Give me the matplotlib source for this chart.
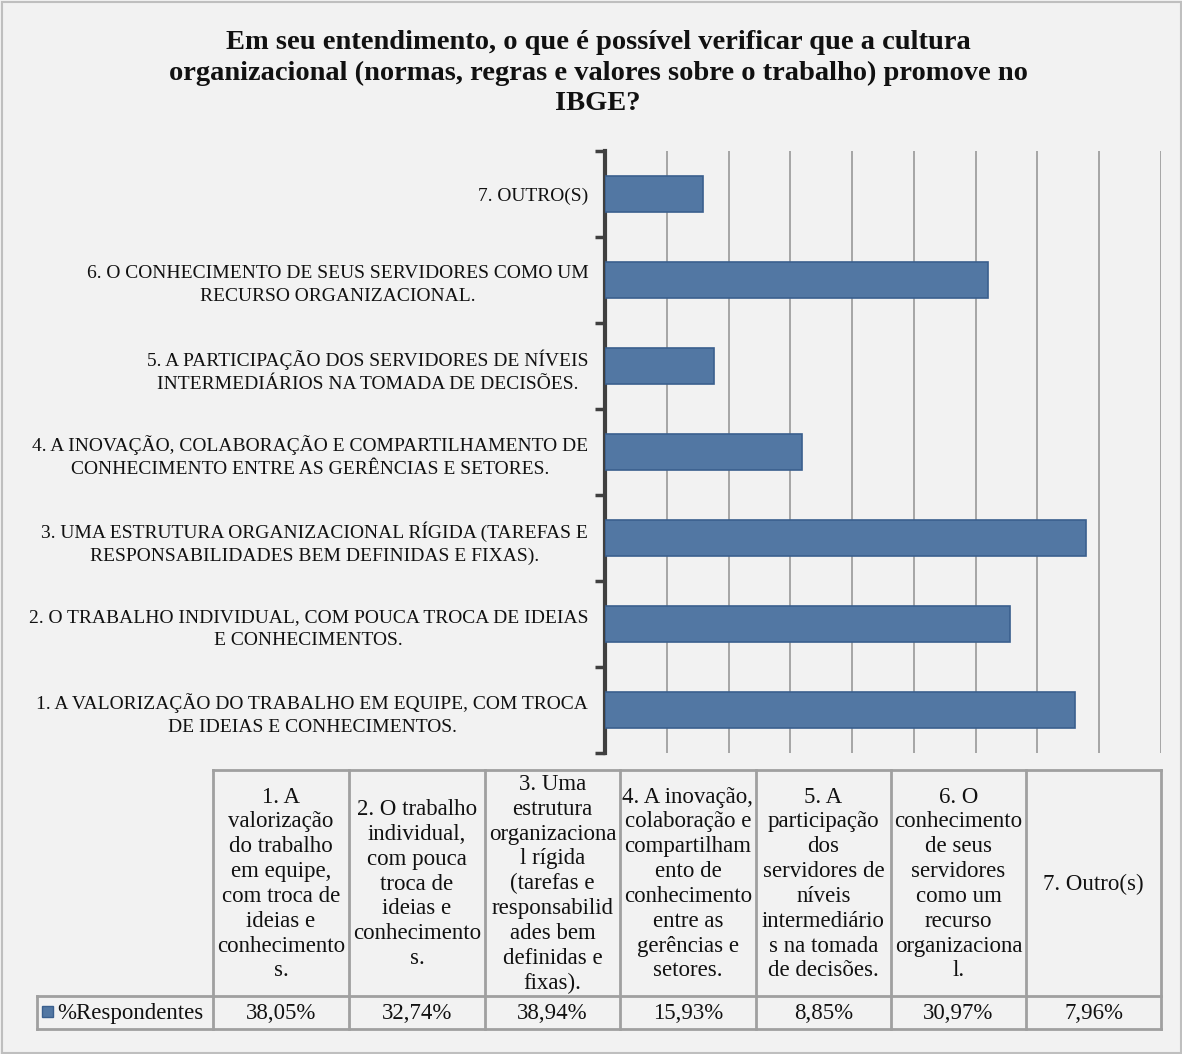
import matplotlib
matplotlib.use("Agg")
import matplotlib.pyplot as plt
from matplotlib.patches import Rectangle

# categories, bottom to top as plotted
categorias = [
    "1. A VALORIZAÇÃO DO TRABALHO EM EQUIPE, COM TROCA\nDE IDEIAS E CONHECIMENTOS.",
    "2. O TRABALHO INDIVIDUAL, COM POUCA TROCA DE IDEIAS\nE CONHECIMENTOS.",
    "3. UMA ESTRUTURA ORGANIZACIONAL RÍGIDA (TAREFAS E\nRESPONSABILIDADES BEM DEFINIDAS E FIXAS).",
    "4. A INOVAÇÃO, COLABORAÇÃO E COMPARTILHAMENTO DE\nCONHECIMENTO ENTRE AS GERÊNCIAS E SETORES.",
    "5. A PARTICIPAÇÃO DOS SERVIDORES DE NÍVEIS\nINTERMEDIÁRIOS NA TOMADA DE DECISÕES.",
    "6. O CONHECIMENTO DE SEUS SERVIDORES COMO UM\nRECURSO ORGANIZACIONAL.",
    "7. OUTRO(S)",
]
respondentes = [38.05, 32.74, 38.94, 15.93, 8.85, 30.97, 7.96]

cabecalhos = [
    "1. A\nvalorização\ndo trabalho\nem equipe,\ncom troca de\nideias e\nconhecimento\ns.",
    "2. O trabalho\nindividual,\ncom pouca\ntroca de\nideias e\nconhecimento\ns.",
    "3. Uma\nestrutura\norganizaciona\nl rígida\n(tarefas e\nresponsabilid\nades bem\ndefinidas e\nfixas).",
    "4. A inovação,\ncolaboração e\ncompartilham\nento de\nconhecimento\nentre as\ngerências e\nsetores.",
    "5. A\nparticipação\ndos\nservidores de\nníveis\nintermediário\ns na tomada\nde decisões.",
    "6. O\nconhecimento\nde seus\nservidores\ncomo um\nrecurso\norganizaciona\nl.",
    "7. Outro(s)",
]
serie = "%Respondentes"
titulo = ("Em seu entendimento, o que é possível verificar que a cultura\n"
          "organizacional (normas, regras e valores sobre o trabalho) promove no\n"
          "IBGE?")

W, H = 1182, 1054
fundo = "#f2f2f2"
azul = "#5277a3"
azul_borda = "#3a5f8e"
texto = "#111111"

plt.rcParams["font.family"] = "Liberation Serif"

fig = plt.figure(figsize=(W / 100, H / 100), dpi=100, facecolor=fundo)

# overlay in pixel coordinates for border, title and data table
base = fig.add_axes([0, 0, 1, 1])
base.set_xlim(0, W)
base.set_ylim(H, 0)
base.axis("off")
base.add_patch(Rectangle((1.5, 1.5), W - 3, H - 3, fill=False, ec="#bfbfbf", lw=1.5))
base.text(598, 73, titulo, ha="center", va="center", fontsize=20.5,
          fontweight="bold", linespacing=1.27, color=texto)

# bar chart
x0, x1, y0, y1 = 605, 1161, 151, 753
ax = fig.add_axes([x0 / W, 1 - y1 / H, (x1 - x0) / W, (y1 - y0) / H])
ax.set_facecolor(fundo)
pos = range(len(categorias))
ax.barh(pos, respondentes, height=0.41, color=azul, edgecolor=azul_borda, linewidth=1.2, zorder=3)
ax.set_xlim(0, 45)
ax.set_ylim(-0.5, len(categorias) - 0.5)
ax.set_xticks(range(0, 46, 5))
ax.xaxis.grid(True, color="#a0a0a0", linewidth=1.3, zorder=0)
ax.tick_params(axis="x", length=0, labelbottom=False)
ax.set_yticks([p - 0.5 for p in pos] + [len(categorias) - 0.5])
ax.set_yticks(list(pos), minor=True)
ax.set_yticklabels([])
ax.set_yticklabels(categorias, minor=True)
ax.tick_params(axis="y", which="major", direction="out", length=7, width=2.5, color="#404040")
ax.tick_params(axis="y", which="minor", length=0, pad=12, labelsize=14, labelcolor=texto)
for lbl in ax.get_yticklabels(minor=True):
    lbl.set_multialignment("center")
    lbl.set_linespacing(1.45)
for s in ["top", "right", "bottom"]:
    ax.spines[s].set_visible(False)
ax.spines["left"].set_color("#404040")
ax.spines["left"].set_linewidth(3)

# data table below the chart
cols = [213, 349, 485, 620, 756, 891, 1026, 1161]
t_top, t_mid, t_bot, lab_left = 770, 996, 1029, 37
linha = dict(color="#a0a0a0", lw=2)
base.plot([cols[0], cols[-1]], [t_top, t_top], **linha)
base.plot([lab_left, cols[-1]], [t_mid, t_mid], **linha)
base.plot([lab_left, cols[-1]], [t_bot, t_bot], **linha)
base.plot([lab_left, lab_left], [t_mid, t_bot], **linha)
for c in cols:
    base.plot([c, c], [t_top, t_bot], **linha)

for i, (cab, val) in enumerate(zip(cabecalhos, respondentes)):
    cx = (cols[i] + cols[i + 1]) / 2
    base.text(cx, (t_top + t_mid) / 2 + 1, cab, ha="center", va="center",
              fontsize=16.5, linespacing=1.24, color=texto)
    base.text(cx, (t_mid + t_bot) / 2 + 1, f"{val:.2f}%".replace(".", ","),
              ha="center", va="center", fontsize=16.5, color=texto)

base.add_patch(Rectangle((42, 1006), 11, 11, fc=azul, ec=azul_borda, lw=1))
base.text(57, (t_mid + t_bot) / 2 + 1, serie, ha="left", va="center",
          fontsize=16.5, color=texto)

fig.savefig("out.png", dpi=100, facecolor=fundo)
